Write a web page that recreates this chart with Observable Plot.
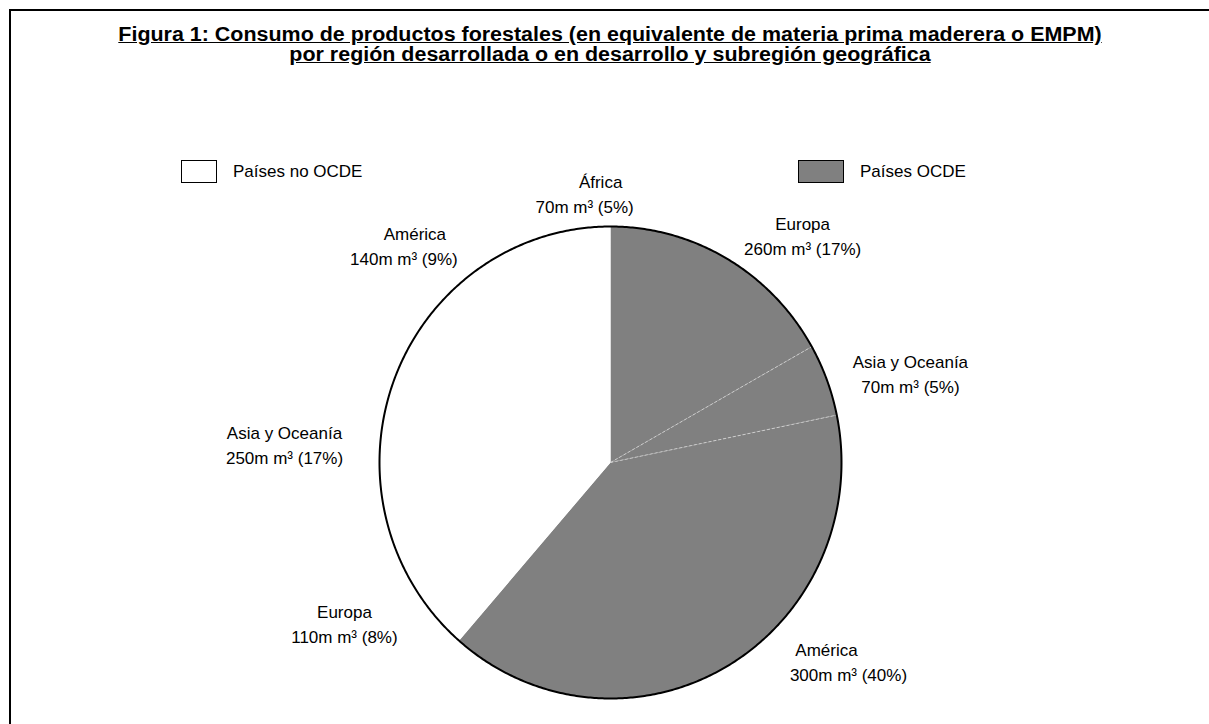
<!DOCTYPE html>
<html><head><meta charset="utf-8">
<script src="https://cdn.jsdelivr.net/npm/d3@7"></script>
<script src="https://cdn.jsdelivr.net/npm/@observablehq/plot@0.6"></script>
<style>
html,body{margin:0;padding:0;background:#fff;overflow:hidden}
#wrap{position:relative;width:1209px;height:724px;overflow:hidden;font-family:"Liberation Sans",Arial,sans-serif;color:#000}
#frame{position:absolute;left:9px;top:9px;width:1300px;height:800px;border:2px solid #000}
#title{position:absolute;left:0;top:24px;width:1220px;text-align:center;font-weight:bold;font-size:19.5px;line-height:20px;text-decoration:underline;transform:scaleX(1.10);transform-origin:610px 0}
.leg{position:absolute;top:160px;display:flex;align-items:center;font-size:17px;white-space:nowrap}
.sw{height:23px;border:1.5px solid #000;box-sizing:border-box;margin-right:16px}
#chart{position:absolute;left:0;top:0}
</style></head>
<body>
<div id="wrap">
  <div id="frame"></div>
  <div id="title"></div>
  <div id="legend"></div>
  <div id="chart"></div>
</div>
<script>
// ---- data ----
const titleLines = [
  "Figura 1: Consumo de productos forestales (en equivalente de materia prima maderera o EMPM)",
  "por región desarrollada o en desarrollo y subregión geográfica"
];
const groups  = ["Países OCDE","Países OCDE","Países OCDE","Países no OCDE","Países no OCDE","Países no OCDE","Países no OCDE"];
const regions = ["Europa","Asia y Oceanía","América","Europa","Asia y Oceanía","América","África"];
const volumes = [260, 70, 300, 110, 250, 140, 70];   // millones de m³ EMPM
const shares  = [17, 5, 40, 8, 17, 9, 5];            // %
const legendLabels = ["Países no OCDE", "Países OCDE"];
const groupColors  = ["#ffffff", "#808080"];

// ---- label layout (offsets relative to slice mid-angle, radius in pie units) ----
const labelLayout = [
  {da: 10.8, r: 1.265, ndx: 0,   vdx: 0},
  {da: 4.6,  r: 1.35,  ndx: 0,   vdx: 0},
  {da: -18.8,r: 1.30,  ndx: -11, vdx: 11},
  {da: 3.8,  r: 1.343, ndx: 0,   vdx: 0},
  {da: -7.0, r: 1.413, ndx: 0,   vdx: 0},
  {da: -9.9, r: 1.262, ndx: 6,   vdx: -5},
  {da: 5.0,  r: 1.134, ndx: 8,   vdx: -8}
];

// ---- title & legend (HTML) ----
document.getElementById("title").innerHTML = titleLines.join("<br>");
const legendLeft = [181, 798];
const legendSwatchW = [36, 46];
document.getElementById("legend").innerHTML = legendLabels.map((l, i) =>
  `<div class="leg" style="left:${legendLeft[i]}px"><div class="sw" style="width:${legendSwatchW[i]}px;background:${groupColors[i]}"></div>${l}</div>`
).join("");

// ---- pie geometry from data ----
const total = d3.sum(shares);
const rad = Math.PI / 180;
let cum = 0;
const slices = shares.map((s, i) => {
  const a0 = cum / total * 360; cum += s;
  const a1 = cum / total * 360;
  return {i, group: groups[i], region: regions[i], a0, a1, mid: (a0 + a1) / 2};
});
const pts = [];
for (const s of slices) {
  pts.push({slice: s.i, group: s.group, x: 0, y: 0});
  const n = Math.max(2, Math.ceil((s.a1 - s.a0) / 0.5));
  for (let k = 0; k <= n; k++) {
    const a = (s.a0 + (s.a1 - s.a0) * k / n) * rad;
    pts.push({slice: s.i, group: s.group, x: Math.sin(a), y: Math.cos(a)});
  }
  pts.push({slice: s.i, group: s.group, x: 0, y: 0});
}
const outline = d3.range(0, 361, 0.5).map(a => ({x: Math.sin(a * rad), y: Math.cos(a * rad)}));
// separators between two adjacent developed-country (grey) slices
const seps = slices.slice(1).filter((s, k) => s.group === slices[k].group && s.group === "Países OCDE")
  .map(s => ({x2: Math.sin(s.a0 * rad), y2: Math.cos(s.a0 * rad)}));
const labels = slices.map(s => {
  const L = labelLayout[s.i];
  const a = (s.mid + L.da) * rad;
  return {x: L.r * Math.sin(a), y: L.r * Math.cos(a), name: regions[s.i],
          value: `${volumes[s.i]}m m³ (${shares[s.i]}%)`, ndx: L.ndx, vdx: L.vdx};
});

const chart = Plot.plot({
  width: 1209, height: 724, margin: 0,
  x: {domain: [-1, 1], range: [379, 841], axis: null},
  y: {domain: [-1, 1], range: [698, 226], axis: null},
  color: {domain: legendLabels, range: groupColors},
  style: {background: "transparent", fontFamily: "'Liberation Sans', Arial, sans-serif", fontSize: "17px", color: "#000"},
  marks: [
    Plot.line(pts, {x: "x", y: "y", z: "slice", fill: "group", stroke: "none", curve: "linear"}),
    Plot.link(seps, {x1: 0, y1: 0, x2: "x2", y2: "y2", stroke: "#d8d8d8", strokeWidth: 0.8, strokeDasharray: "3,2"}),
    Plot.line(outline, {x: "x", y: "y", stroke: "#000", strokeWidth: 2}),
    ...labels.map(l => Plot.text([l], {x: "x", y: "y", text: "name", dx: l.ndx, dy: -12.5, fill: "#000", fontSize: 17})),
    ...labels.map(l => Plot.text([l], {x: "x", y: "y", text: "value", dx: l.vdx, dy: 12.5, fill: "#000", fontSize: 17}))
  ]
});
document.getElementById("chart").appendChild(chart);
</script>
</body></html>
